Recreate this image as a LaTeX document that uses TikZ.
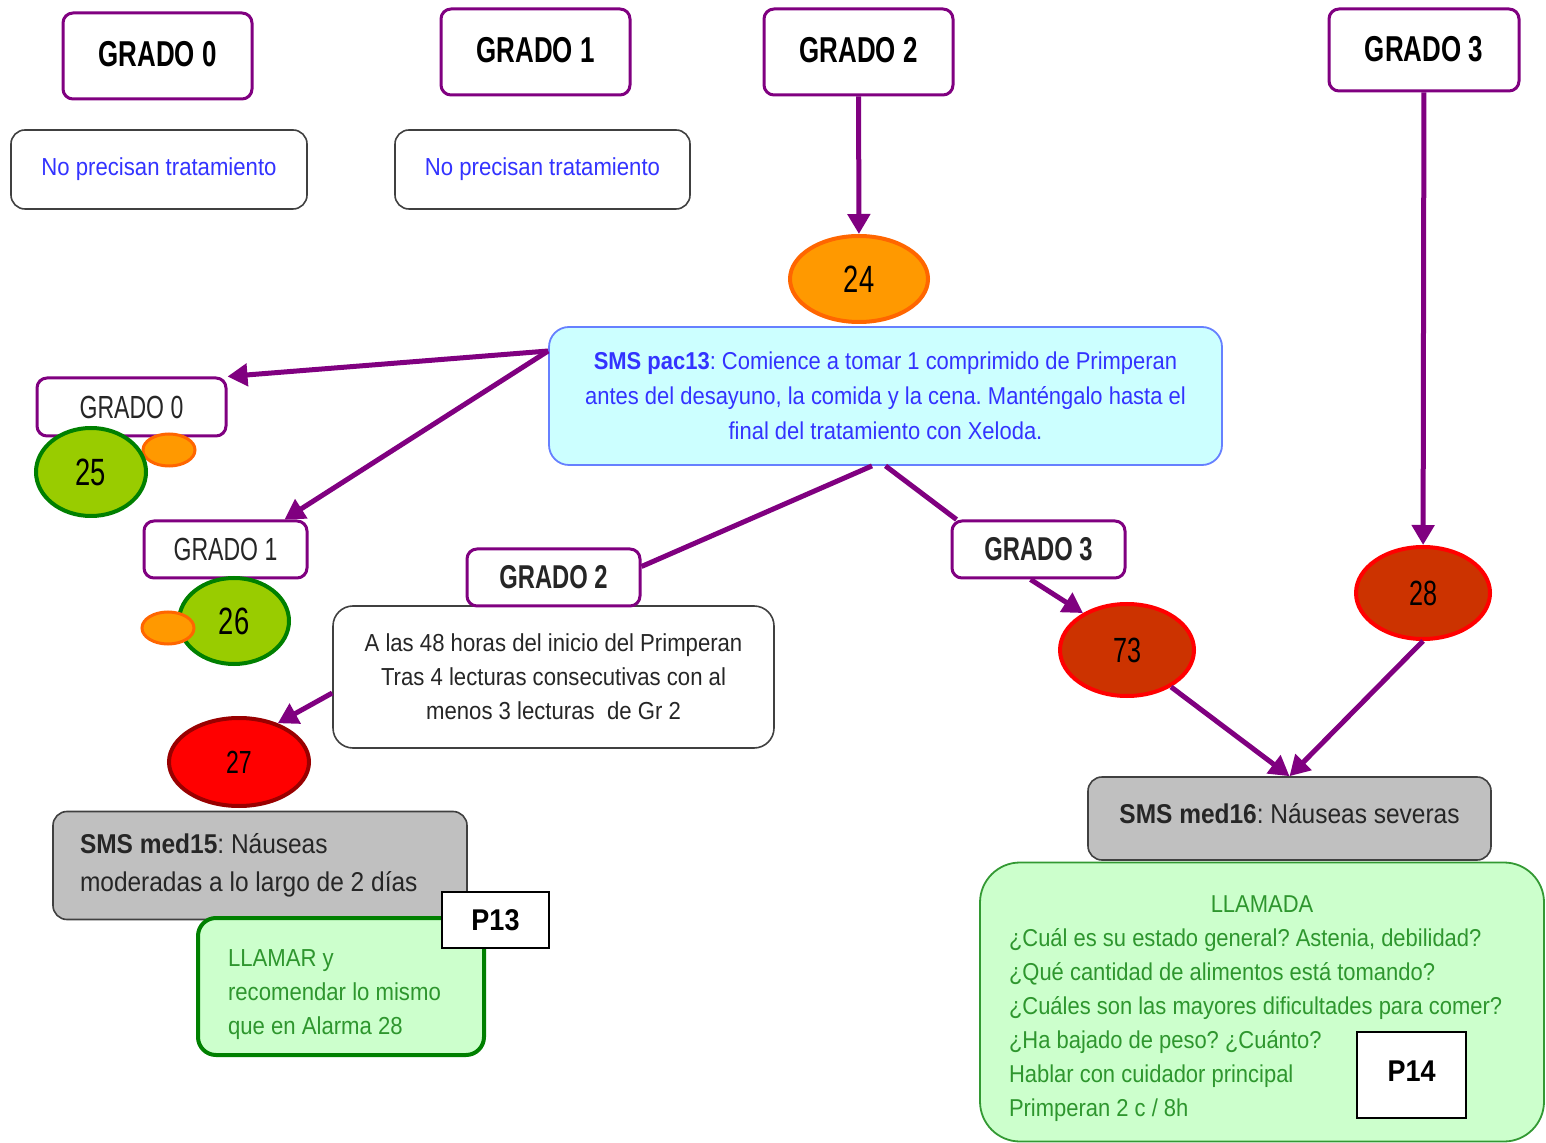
\documentclass[tikz,border=0pt]{standalone}
\usepackage{fontspec}
\setmainfont{Liberation Sans}[FakeStretch=0.9]
\newfontfamily\condfont{Liberation Sans}[FakeStretch=0.72]
\usetikzlibrary{shapes.geometric,arrows.meta}
\definecolor{purp}{HTML}{800080}
\definecolor{txtblue}{HTML}{3333FF}
\definecolor{smsfill}{HTML}{CCFFFF}
\definecolor{smsdraw}{HTML}{6680FF}
\definecolor{orfill}{HTML}{FF9900}
\definecolor{ordraw}{HTML}{FF6600}
\definecolor{gfill}{HTML}{99CC00}
\definecolor{gdraw}{HTML}{008000}
\definecolor{rfill}{HTML}{FF0000}
\definecolor{rdraw}{HTML}{990000}
\definecolor{bfill}{HTML}{CC3300}
\definecolor{bdraw}{HTML}{FF0000}
\definecolor{grayfill}{HTML}{C0C0C0}
\definecolor{lgfill}{HTML}{CCFFCC}
\definecolor{lgdraw}{HTML}{339933}
\definecolor{gtext}{HTML}{2E962E}
\definecolor{dtext}{HTML}{262626}
\newcommand{\rse}[2]{\raisebox{#1}{#2}}
\tikzset{
  grado/.style={draw=purp, line width=1.5pt, rounded corners=5pt, fill=white, inner sep=0pt,
    text=black, font=\condfont\fontsize{18}{20}\selectfont\bfseries},
  gradol/.style={grado, text=dtext, font=\condfont\fontsize{16}{18}\selectfont},
  gradom/.style={grado, text=dtext, font=\condfont\fontsize{16.5}{18}\selectfont\bfseries},
  npbox/.style={draw=black!75, line width=0.8pt, rounded corners=7pt, fill=white, text=txtblue,
    inner sep=0pt, font=\fontsize{12.3}{17}\selectfont},
  oval/.style={ellipse, line width=2pt, inner sep=0pt, text=black},
  orng/.style={oval, fill=orfill, draw=ordraw},
  grn/.style={oval, fill=gfill, draw=gdraw, font=\condfont\fontsize{19}{19}\selectfont},
  redo/.style={oval, fill=rfill, draw=rdraw, font=\condfont\fontsize{16}{18}\selectfont},
  brn/.style={oval, fill=bfill, draw=bdraw, font=\condfont\fontsize{17.5}{18}\selectfont},
  graybox/.style={draw=black!75, line width=0.8pt, rounded corners=7pt, fill=grayfill, text=dtext,
    font=\fontsize{13.6}{19}\selectfont},
  greenbox/.style={fill=lgfill, text=gtext, font=\fontsize{12.3}{17}\selectfont, align=flush left},
  pbox/.style={draw=black, line width=0.7pt, fill=white, inner sep=0pt, text=black,
    font=\fontsize{15}{17}\selectfont\bfseries},
  arr/.style={draw=purp, line width=2.5pt, -{Triangle[length=10pt,width=11pt]}},
  ln/.style={draw=purp, line width=2.5pt},
}
\begin{document}
\frenchspacing
\begin{tikzpicture}[x=0.5pt,y=-0.5pt]
\useasboundingbox[fill=white] (0,0) rectangle (1546,1143);

% top row
\node[grado, minimum width=94.5pt, minimum height=43pt] (g0t) at (157.5,56) {\rse{2.5pt}{GRADO 0}};
\node[grado, minimum width=94.5pt, minimum height=43pt] (g1t) at (535.5,52) {\rse{2.5pt}{GRADO 1}};
\node[grado, minimum width=94.5pt, minimum height=43pt] (g2t) at (858.5,52) {\rse{2.5pt}{GRADO 2}};
\node[grado, minimum width=95pt, minimum height=41pt] (g3t) at (1424,50) {\rse{1.5pt}{GRADO 3}};
\node[npbox, minimum width=148pt, minimum height=39.5pt] (np0) at (159,169.5) {\rse{2pt}{No precisan tratamiento}};
\node[npbox, minimum width=147.5pt, minimum height=39.5pt] (np1) at (542.5,169.5) {\rse{2pt}{No precisan tratamiento}};

% 24 and SMS pac13
\node[orng, minimum width=69pt, minimum height=43pt, font=\condfont\fontsize{19}{20}\selectfont] (e24) at (859,279) {24};
\node[draw=smsdraw, line width=0.9pt, rounded corners=10pt, fill=smsfill, text=txtblue,
  minimum width=336.5pt, minimum height=69pt, align=center, inner sep=0pt,
  font=\fontsize{12.2}{17.5}\selectfont] (sms) at (885.5,396)
  {{\bfseries SMS pac13}: Comience a tomar 1 comprimido de Primperan\\
   antes del desayuno, la comida y la cena. Manténgalo hasta el\\
   final del tratamiento con Xeloda.};

% left branch grado 0 / 1
\node[gradol, minimum width=94.5pt, minimum height=29pt] (g0l) at (131.5,407) {\rse{-2.5pt}{GRADO 0}};
\node[orng, line width=1.5pt, minimum width=26pt, minimum height=16pt] (o25) at (169,450) {};
\node[grn, minimum width=55pt, minimum height=44pt] (e25) at (91,472) {25};
\node[gradol, minimum width=81.5pt, minimum height=28.5pt] (g1l) at (225.5,549.5) {\rse{-3.5pt}{GRADO 1}};
\node[grn, minimum width=55pt, minimum height=43pt] (e26) at (234,621) {26};
\node[orng, line width=1.5pt, minimum width=26pt, minimum height=16pt] (o26) at (168,628) {};

% grado 2 branch
\node[draw=black!75, line width=0.8pt, rounded corners=10pt, fill=white, text=dtext,
  minimum width=220.5pt, minimum height=71pt, align=center, inner sep=0pt,
  font=\fontsize{12.3}{17}\selectfont] (mt) at (553.5,677)
  {A las 48 horas del inicio del Primperan\\
   Tras 4 lecturas consecutivas con al\\
   menos 3 lecturas\ \ de Gr 2};
\node[gradom, minimum width=86.5pt, minimum height=28.5pt] (g2m) at (553.5,577.5) {\rse{-3pt}{GRADO 2}};
\node[redo, minimum width=70pt, minimum height=44pt] (e27) at (239,762) {27};
\node[graybox, minimum height=54pt, text width=180pt, inner xsep=13.5pt, inner ysep=0pt, align=flush left] (med15) at (260,865.5)
  {{\bfseries SMS med15}: Náuseas\\moderadas a lo largo de 2 días};
\node[greenbox, draw=gdraw, line width=2pt, rounded corners=9pt, minimum height=68.5pt,
  text width=113pt, inner xsep=15pt, inner ysep=0pt] (llamar) at (341,986.5)
  {\rule{0pt}{17pt}LLAMAR y\\recomendar lo mismo\\que en Alarma 28};
\node[pbox, minimum width=53.5pt, minimum height=28pt] (p13) at (495.5,920) {P13};

% grado 3 branch
\node[gradom, minimum width=86.5pt, minimum height=28.5pt] (g3m) at (1038.5,549.5) {\rse{-3.5pt}{GRADO 3}};
\node[brn, minimum width=67pt, minimum height=46pt] (e73) at (1127,650) {73};
\node[brn, minimum width=67pt, minimum height=46pt] (e28) at (1423,593) {28};
\node[graybox, minimum width=201.5pt, minimum height=41.5pt, inner sep=0pt] (med16) at (1289.5,818.5)
  {\rse{5.5pt}{{\bfseries SMS med16}: Náuseas severas}};
\node[greenbox, draw=lgdraw, line width=0.9pt, rounded corners=20pt, minimum height=139.5pt,
  text width=253pt, inner xsep=14.5pt, inner ysep=0pt, font=\fontsize{12.2}{17}\selectfont] (llamada) at (1262,1002)
  {\makebox[253pt]{\rule{0pt}{15pt}LLAMADA}\\
   ¿Cuál es su estado general? Astenia, debilidad?\\
   ¿Qué cantidad de alimentos está tomando?\\
   ¿Cuáles son las mayores dificultades para comer?\\
   ¿Ha bajado de peso? ¿Cuánto?\\
   Hablar con cuidador principal\\
   Primperan 2 c / 8h};
\node[pbox, minimum width=54.5pt, minimum height=43pt] (p14) at (1411.5,1075) {\rse{4pt}{P14}};

% connectors
\draw[arr] (g2t) -- (e24);
\draw[arr] (g3t) -- (e28);
\draw[arr] ([yshift=22.5pt]sms.west) -- (g0l.north east);
\draw[arr] ([yshift=22.5pt]sms.west) -- ([xshift=-12pt]g1l.north east);
\draw[ln] ([xshift=-6.75pt]sms.south) -- ([yshift=5.5pt]g2m.east);
\draw[ln] (sms.south) -- ([xshift=3pt]g3m.north west);
\draw[arr] ([xshift=-4pt]g3m.south) -- (e73.140);
\draw[arr] (e73.320) -- (med16.north);
\draw[arr] (e28.south) -- (med16.north);
\draw[arr] ([yshift=-8pt]mt.west) -- (e27.45);
\end{tikzpicture}
\end{document}
